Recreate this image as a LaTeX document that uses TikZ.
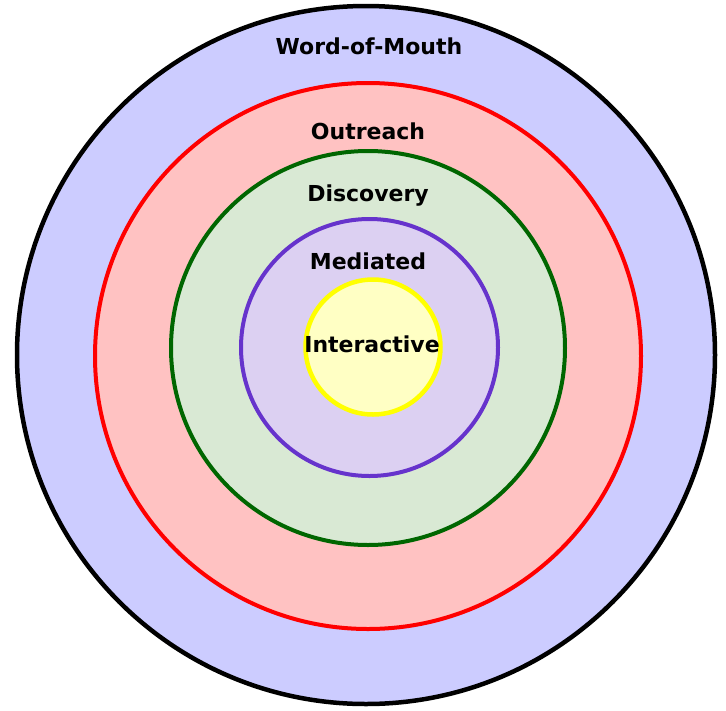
\documentclass[tikz,border=0pt]{standalone}
\usepackage{fontspec}
\setmainfont{DejaVu Sans}
\usepackage{tikz}

\definecolor{womfill}{RGB}{204,204,255}
\definecolor{outfill}{RGB}{255,194,194}
\definecolor{discfill}{RGB}{217,233,212}
\definecolor{discline}{RGB}{0,102,0}
\definecolor{medfill}{RGB}{220,208,242}
\definecolor{medline}{RGB}{102,51,204}
\definecolor{intfill}{RGB}{255,255,196}
\definecolor{intline}{RGB}{255,255,0}

\begin{document}
\begin{tikzpicture}[x=1pt,y=-1pt]
    \tikzset{ring/.style={circle, inner sep=0pt, line width=4pt}}
    \tikzset{lbl/.style={font=\fontsize{22}{26}\selectfont\bfseries, inner sep=0pt}}
    \useasboundingbox (0,0) rectangle (726,710);
    % rings, outermost first
    \node[ring, draw=black, fill=womfill, line width=4.5pt, minimum size=698pt] (wom) at (366,355) {};
    \node[ring, draw=red, fill=outfill, minimum size=546pt] (outreach) at (368,356) {};
    \node[ring, draw=discline, fill=discfill, minimum size=394pt] (discovery) at (368,348) {};
    \node[ring, draw=medline, fill=medfill, minimum size=257pt] (mediated) at (369.5,347.5) {};
    \node[ring, draw=intline, fill=intfill, line width=4.5pt, minimum size=135pt] (interactive) at (373,347) {};
    % labels
    \node[lbl] (womlbl) at (369,46) {Word-of-Mouth};
    \node[lbl] (outlbl) at (368,131) {Outreach};
    \node[lbl] (disclbl) at (368,196) {Discovery};
    \node[lbl] (medlbl) at (368,261) {Mediated};
    \node[lbl] (intlbl) at (372,344) {Interactive};
\end{tikzpicture}
\end{document}
